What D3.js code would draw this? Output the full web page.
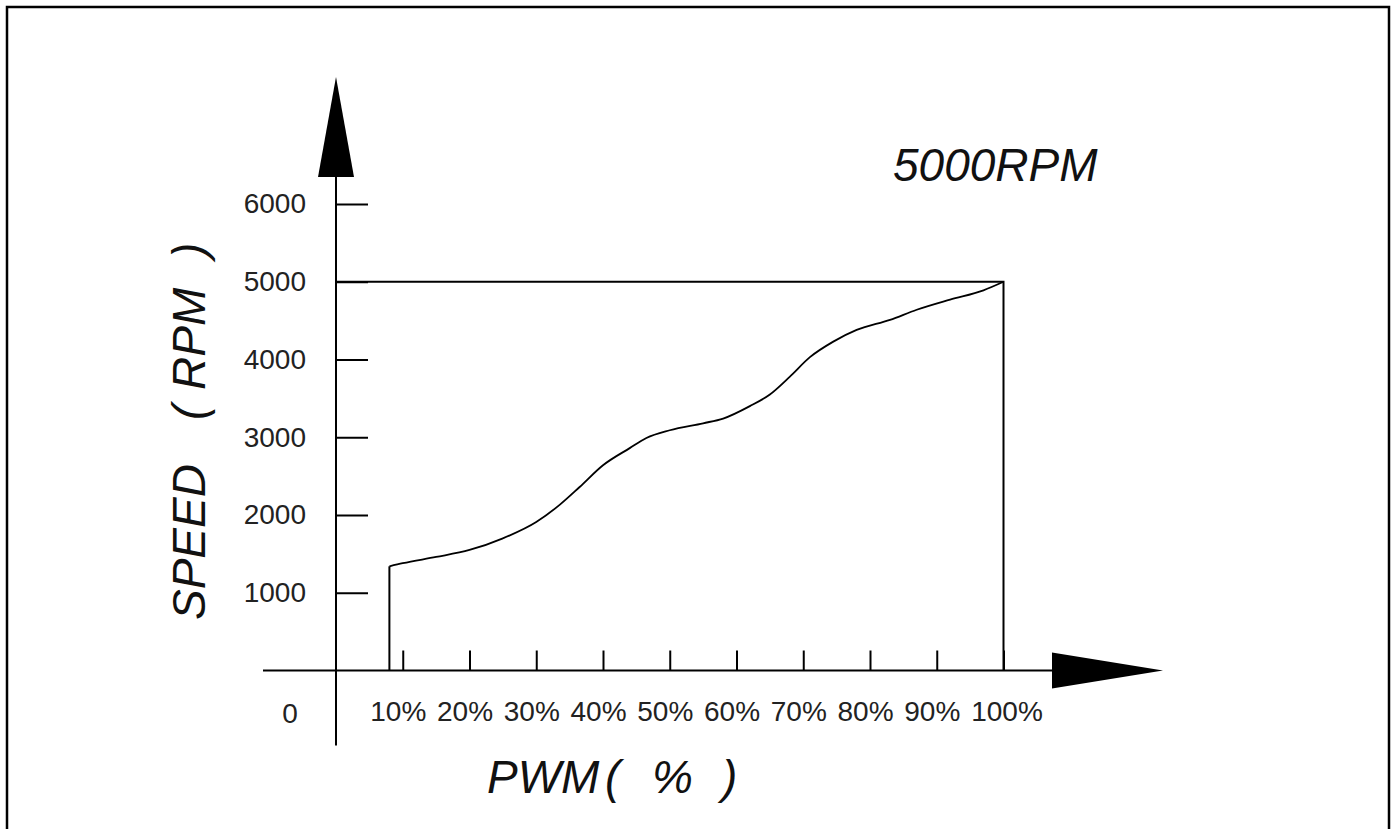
<!DOCTYPE html>
<html>
<head>
<meta charset="utf-8">
<script src="https://cdn.jsdelivr.net/npm/d3@7"></script>
<style>
  body { margin: 0; background: #fff; }
  svg { display: block; }
  text { font-family: "Liberation Sans", Arial, sans-serif; }
</style>
</head>
<body>
<div id="chart"></div>
<script>
// data
const pwmTicks = [10, 20, 30, 40, 50, 60, 70, 80, 90, 100];
const speedTicks = [1000, 2000, 3000, 4000, 5000, 6000];
const curvePwm = [8, 10, 15, 20, 25, 30, 33.5, 36.5, 40, 44, 46.5, 50, 55, 58, 62, 65, 68, 71, 74.5, 78, 83, 87, 92, 97, 100];
const curveSpeed = [1340, 1380, 1460, 1550, 1700, 1910, 2130, 2360, 2640, 2860, 2990, 3090, 3180, 3240, 3400, 3550, 3780, 4030, 4230, 4380, 4510, 4640, 4770, 4890, 5000];
const maxSpeed = 5000;
const maxPwm = 100;
const titleText = "5000RPM";

const width = 1395;
const height = 829;

const svg = d3.select("#chart")
  .append("svg")
  .attr("width", width)
  .attr("height", height);

// outer frame (bottom edge runs off the page)
svg.append("rect")
  .attr("x", 7)
  .attr("y", 7)
  .attr("width", 1382)
  .attr("height", 900)
  .attr("fill", "none")
  .attr("stroke", "#000")
  .attr("stroke-width", 2.5);

// scales
const xScale = d3.scaleLinear().domain([0, 100]).range([336, 1003.5]);
const yScale = d3.scaleLinear().domain([0, 6000]).range([670.5, 204]);

const x0 = xScale(0);
const y0 = yScale(0);

// axis lines
svg.append("line")
  .attr("x1", x0).attr("x2", x0)
  .attr("y1", 170).attr("y2", y0 + 75)
  .attr("stroke", "#000").attr("stroke-width", 2);

svg.append("line")
  .attr("x1", x0 - 73).attr("x2", 1060)
  .attr("y1", y0).attr("y2", y0)
  .attr("stroke", "#000").attr("stroke-width", 2);

// arrow heads
svg.append("path")
  .attr("d", `M${x0},77 L${x0 + 18},177 L${x0 - 18},177 Z`)
  .attr("fill", "#000");

svg.append("path")
  .attr("d", `M1163,${y0} L1052,${y0 - 18} L1052,${y0 + 18} Z`)
  .attr("fill", "#000");

// x axis ticks + labels
const xAxis = d3.axisBottom(xScale)
  .tickValues(pwmTicks)
  .tickSize(-20)
  .tickPadding(31)
  .tickFormat(d => d + "%");

const gx = svg.append("g")
  .attr("transform", `translate(0, ${y0})`)
  .call(xAxis);
gx.select(".domain").remove();
gx.selectAll(".tick line").attr("stroke", "#000").attr("stroke-width", 2);
gx.selectAll(".tick text")
  .attr("fill", "#222")
  .attr("dx", d => d === 100 ? 3 : -5)
  .style("font-size", "28px");

// y axis ticks + labels
const yAxis = d3.axisLeft(yScale)
  .tickValues(speedTicks)
  .tickSize(-32)
  .tickPadding(30)
  .tickFormat(d3.format("d"));

const gy = svg.append("g")
  .attr("transform", `translate(${x0}, 0)`)
  .call(yAxis);
gy.select(".domain").remove();
gy.selectAll(".tick line").attr("stroke", "#000").attr("stroke-width", 2);
gy.selectAll(".tick text")
  .attr("fill", "#222")
  .style("font-size", "28px");

// origin label
svg.append("text")
  .text("0")
  .attr("x", x0 - 46)
  .attr("y", y0 + 52)
  .attr("text-anchor", "middle")
  .attr("fill", "#222")
  .style("font-size", "28px");

// 5000 rpm limit lines
svg.append("path")
  .attr("d", `M${x0},${yScale(maxSpeed)} L${xScale(maxPwm)},${yScale(maxSpeed)} L${xScale(maxPwm)},${y0}`)
  .attr("fill", "none")
  .attr("stroke", "#000")
  .attr("stroke-width", 2);

// speed curve
const pts = curvePwm.map((p, i) => [p, curveSpeed[i]]);

svg.append("line")
  .attr("x1", xScale(pts[0][0])).attr("x2", xScale(pts[0][0]))
  .attr("y1", y0).attr("y2", yScale(pts[0][1]))
  .attr("stroke", "#000").attr("stroke-width", 2);

const line = d3.line()
  .x(d => xScale(d[0]))
  .y(d => yScale(d[1]))
  .curve(d3.curveMonotoneX);

svg.append("path")
  .datum(pts)
  .attr("d", line)
  .attr("fill", "none")
  .attr("stroke", "#000")
  .attr("stroke-width", 1.8);

// title
svg.append("text")
  .text(titleText)
  .attr("x", 893)
  .attr("y", 181)
  .attr("fill", "#111")
  .style("font-size", "46px")
  .style("font-style", "italic");

// y axis title
const yTitle = svg.append("text")
  .attr("transform", "translate(205, 0) rotate(-90)")
  .attr("fill", "#111")
  .style("font-size", "46px")
  .style("font-style", "italic");
[["SPEED", -620], ["(", -420], ["RPM", -390], [")", -258]].forEach(([t, x]) => {
  yTitle.append("tspan").attr("x", x).text(t);
});

// x axis title
const xTitle = svg.append("text")
  .attr("y", 793)
  .attr("fill", "#111")
  .style("font-size", "46px")
  .style("font-style", "italic");
[["PWM", 487], ["(", 605], ["%", 652], [")", 722]].forEach(([t, x]) => {
  xTitle.append("tspan").attr("x", x).text(t);
});
</script>
</body>
</html>
